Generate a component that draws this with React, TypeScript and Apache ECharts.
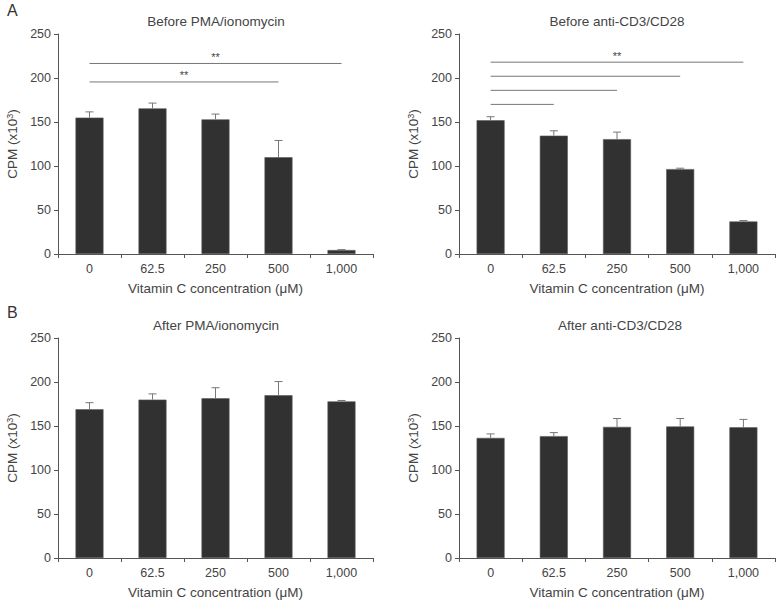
import React, { useEffect, useRef } from "react";
import * as echarts from "echarts";

const categories = ["0", "62.5", "250", "500", "1,000"];

const beforePMA = [155, 165.5, 153, 110, 4.5];
const beforePMAErr = [6.5, 6, 6, 19, 0.5];
const beforeCD3 = [152, 134.5, 130.5, 96.5, 37];
const beforeCD3Err = [4, 5.5, 8, 1, 1];
const afterPMA = [169, 180, 181.5, 185, 178];
const afterPMAErr = [7.5, 6.5, 12, 15.5, 1];
const afterCD3 = [136.5, 138.5, 149, 149.5, 148.5];
const afterCD3Err = [4.5, 4, 9.5, 9, 9];

// [start category index, end category index, y value]
const sigBeforePMA = [
  [0, 4, 216.5],
  [0, 3, 195.5],
];
const sigBeforePMALabels = ["**", "**"];
const sigBeforeCD3 = [
  [0, 4, 218],
  [0, 3, 202],
  [0, 2, 186],
  [0, 1, 170],
];
const sigBeforeCD3Labels = ["**", "", "", ""];

const titles = [
  "Before PMA/ionomycin",
  "Before anti-CD3/CD28",
  "After PMA/ionomycin",
  "After anti-CD3/CD28",
];

const FONT = "Liberation Sans, Arial, Helvetica, sans-serif";
const TEXT = "#444";
const AXIS = "#555";

export default function App() {
  const ref = useRef<HTMLDivElement>(null);

  useEffect(() => {
    if (!ref.current) return;
    const chart = echarts.init(ref.current, null, { renderer: "svg" });

    const grids = [
      { left: 58, top: 34, width: 315, height: 220 },
      { left: 459, top: 34, width: 316, height: 220 },
      { left: 58, top: 338, width: 315, height: 220 },
      { left: 459, top: 338, width: 316, height: 220 },
    ];
    const means = [beforePMA, beforeCD3, afterPMA, afterCD3];
    const errs = [beforePMAErr, beforeCD3Err, afterPMAErr, afterCD3Err];

    const xAxes = grids.map((_, i) => ({
      type: "category",
      gridIndex: i,
      data: categories,
      boundaryGap: true,
      axisLine: { show: true, lineStyle: { color: AXIS, width: 1 } },
      axisTick: { show: true, length: 4, alignWithLabel: false, lineStyle: { color: AXIS } },
      axisLabel: { color: TEXT, fontSize: 12.5, fontFamily: FONT, margin: 8 },
      name: "Vitamin C concentration (μM)",
      nameLocation: "middle",
      nameGap: 27,
      nameTextStyle: { color: TEXT, fontSize: 13.5, fontFamily: FONT },
      splitLine: { show: false },
    }));

    const yAxes = grids.map((_, i) => ({
      type: "value",
      gridIndex: i,
      min: 0,
      max: 250,
      interval: 50,
      axisLine: { show: true, lineStyle: { color: AXIS, width: 1 } },
      axisTick: { show: true, length: 4, lineStyle: { color: AXIS } },
      axisLabel: { color: TEXT, fontSize: 12.5, fontFamily: FONT, margin: 7 },
      splitLine: { show: false },
      name: "{a|CPM (x10}{s|3}{a|)}",
      nameLocation: "middle",
      nameGap: 38,
      nameRotate: 90,
      nameTextStyle: {
        rich: {
          a: { color: TEXT, fontSize: 13.5, fontFamily: FONT, lineHeight: 15 },
          s: { color: TEXT, fontSize: 9, fontFamily: FONT, verticalAlign: "top", lineHeight: 15 },
        },
      },
    }));

    const series: any[] = [];
    grids.forEach((_, i) => {
      series.push({
        type: "bar",
        xAxisIndex: i,
        yAxisIndex: i,
        data: means[i],
        barWidth: 28,
        itemStyle: { color: "#313131", borderColor: "#5a5a5a", borderWidth: 0.6 },
        z: 2,
      });
      series.push({
        type: "custom",
        xAxisIndex: i,
        yAxisIndex: i,
        data: means[i].map((m, k) => [k, m, m + errs[i][k]]),
        encode: { x: 0, y: [1, 2] },
        z: 3,
        renderItem: (params: any, api: any) => {
          const lo = api.coord([api.value(0), api.value(1)]);
          const hi = api.coord([api.value(0), api.value(2)]);
          return {
            type: "group",
            children: [
              {
                type: "line",
                shape: { x1: lo[0], y1: lo[1], x2: hi[0], y2: hi[1] },
                style: { stroke: "#777", lineWidth: 1 },
              },
              {
                type: "line",
                shape: { x1: hi[0] - 4, y1: hi[1], x2: hi[0] + 4, y2: hi[1] },
                style: { stroke: "#777", lineWidth: 1 },
              },
            ],
          };
        },
      });
    });

    const sigSets = [
      { idx: 0, data: sigBeforePMA, labels: sigBeforePMALabels },
      { idx: 1, data: sigBeforeCD3, labels: sigBeforeCD3Labels },
    ];
    sigSets.forEach((s) => {
      series.push({
        type: "custom",
        xAxisIndex: s.idx,
        yAxisIndex: s.idx,
        data: s.data,
        encode: { x: [0, 1], y: 2 },
        z: 4,
        renderItem: (params: any, api: any) => {
          const a = api.coord([api.value(0), api.value(2)]);
          const b = api.coord([api.value(1), api.value(2)]);
          const label = s.labels[params.dataIndex];
          const children: any[] = [
            {
              type: "line",
              shape: { x1: a[0], y1: a[1], x2: b[0], y2: b[1] },
              style: { stroke: "#777", lineWidth: 1 },
            },
          ];
          if (label) {
            children.push({
              type: "text",
              x: (a[0] + b[0]) / 2,
              y: a[1] - 1,
              style: {
                text: label,
                textAlign: "center",
                textVerticalAlign: "bottom",
                fontSize: 11,
                fontFamily: FONT,
                fill: TEXT,
              },
            });
          }
          return { type: "group", children };
        },
      });
    });

    const titlePos = [
      [216, 21],
      [617, 21],
      [216, 325],
      [620, 325],
    ];

    const graphic: any[] = titles.map((t, i) => ({
      type: "text",
      x: titlePos[i][0],
      y: titlePos[i][1],
      style: {
        text: t,
        textAlign: "center",
        textVerticalAlign: "middle",
        fontSize: 13.5,
        fontFamily: FONT,
        fill: TEXT,
      },
    }));
    graphic.push({
      type: "text",
      x: 7,
      y: 10,
      style: { text: "A", fontSize: 16, fontFamily: FONT, fill: "#333", textVerticalAlign: "middle" },
    });
    graphic.push({
      type: "text",
      x: 7,
      y: 312,
      style: { text: "B", fontSize: 16, fontFamily: FONT, fill: "#333", textVerticalAlign: "middle" },
    });

    chart.setOption({
      animation: false,
      backgroundColor: "#ffffff",
      grid: grids.map((g) => ({ ...g, containLabel: false, outerBoundsMode: "none" })),
      xAxis: xAxes,
      yAxis: yAxes,
      series,
      graphic,
    });

    return () => chart.dispose();
  }, []);

  return (
    <div
      ref={ref}
      style={{ position: "absolute", left: 0, top: 0, width: 776, height: 601, background: "#fff" }}
    />
  );
}
